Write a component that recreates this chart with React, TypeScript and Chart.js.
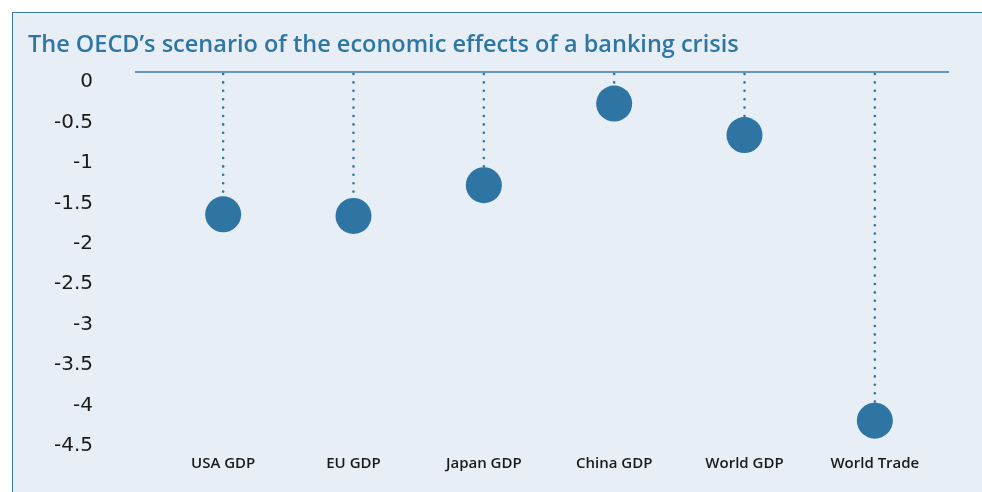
import React, { useEffect, useRef } from 'react';
import { Chart, registerables } from 'chart.js';

Chart.register(...registerables);

const titleText = 'The OECD’s scenario of the economic effects of a banking crisis';
const categories = ['USA GDP', 'EU GDP', 'Japan GDP', 'China GDP', 'World GDP', 'World Trade'];
const values = [-1.76, -1.78, -1.4, -0.39, -0.78, -4.31];
const yMin = -4.5;
const yMax = 0;
const yStep = 0.5;

const DOT = '#2E75A3';
const LINE = '#3A7BA8';
const BG = '#E8EEF5';
const R = 18;

const stemPlugin = {
  id: 'stems',
  beforeDatasetsDraw(chart: any) {
    const { ctx, scales, chartArea } = chart;
    const y = scales.y;
    const y0 = y.getPixelForValue(0);
    ctx.save();
    ctx.strokeStyle = LINE;
    ctx.lineWidth = 1.5;
    ctx.beginPath();
    ctx.moveTo(chartArea.left - 23, y0);
    ctx.lineTo(chartArea.right + 9, y0);
    ctx.stroke();
    const meta = chart.getDatasetMeta(0);
    ctx.setLineDash([0, 8.4]);
    ctx.lineCap = 'round';
    ctx.lineWidth = 2.6;
    ctx.strokeStyle = DOT;
    meta.data.forEach((pt: any) => {
      ctx.beginPath();
      ctx.moveTo(pt.x, y0 + 2);
      ctx.lineTo(pt.x, pt.y - R);
      ctx.stroke();
    });
    ctx.restore();
  },
};

export default function App() {
  const ref = useRef<HTMLCanvasElement | null>(null);
  useEffect(() => {
    if (!ref.current) return;
    const chart = new Chart(ref.current, {
      type: 'line',
      data: {
        labels: categories,
        datasets: [
          {
            data: values,
            showLine: false,
            pointRadius: R,
            pointHoverRadius: R,
            pointBackgroundColor: DOT,
            pointBorderWidth: 0,
            borderColor: DOT,
            clip: false as any,
          },
        ],
      },
      options: {
        animation: false,
        responsive: false,
        layout: { padding: { left: 28, right: 42, top: 31, bottom: 19 } },
        plugins: {
          legend: { display: false },
          tooltip: { enabled: false },
          title: {
            display: true,
            text: titleText,
            align: 'start',
            color: '#2E76A4',
            font: { family: 'Open Sans', size: 23.5, weight: 600 as any },
            padding: { top: 0, bottom: 12.8 },
          },
        },
        scales: {
          x: {
            type: 'category',
            offset: true,
            grid: { display: false, drawTicks: false },
            border: { display: false },
            ticks: {
              color: '#1a1a1a',
              padding: 19,
              font: { family: 'Open Sans', size: 15, weight: 600 as any },
            },
            afterFit: (s: any) => {
              s.height = 37;
              s.paddingLeft = 0;
              s.paddingRight = 0;
            },
          },
          y: {
            min: yMin,
            max: yMax,
            grid: { display: false, drawTicks: false },
            border: { display: false },
            ticks: {
              stepSize: yStep,
              labelOffset: 10,
              padding: 65,
              color: '#1a1a1a',
              font: { family: 'DejaVu Sans', size: 20, weight: 'normal' as any },
              callback: (v: any) => String(Number(v)),
            },
            afterFit: (s: any) => {
              s.width = 130;
              s.paddingTop = 0;
              s.paddingBottom = 0;
            },
          },
        },
      },
      plugins: [stemPlugin],
    });
    return () => chart.destroy();
  }, []);

  return (
    <div style={{ position: 'absolute', left: 0, top: 0, width: 982, height: 492 }}>
      <div
        style={{
          position: 'absolute',
          left: 12,
          top: 12,
          width: 970,
          height: 480,
          background: BG,
          borderTop: '1.5px solid ' + LINE,
          borderLeft: '1.5px solid ' + LINE,
          boxSizing: 'border-box',
        }}
      />
      <canvas
        ref={ref}
        width={982}
        height={492}
        style={{ position: 'absolute', left: 0, top: 0, width: 982, height: 492, display: 'block' }}
      />
    </div>
  );
}
